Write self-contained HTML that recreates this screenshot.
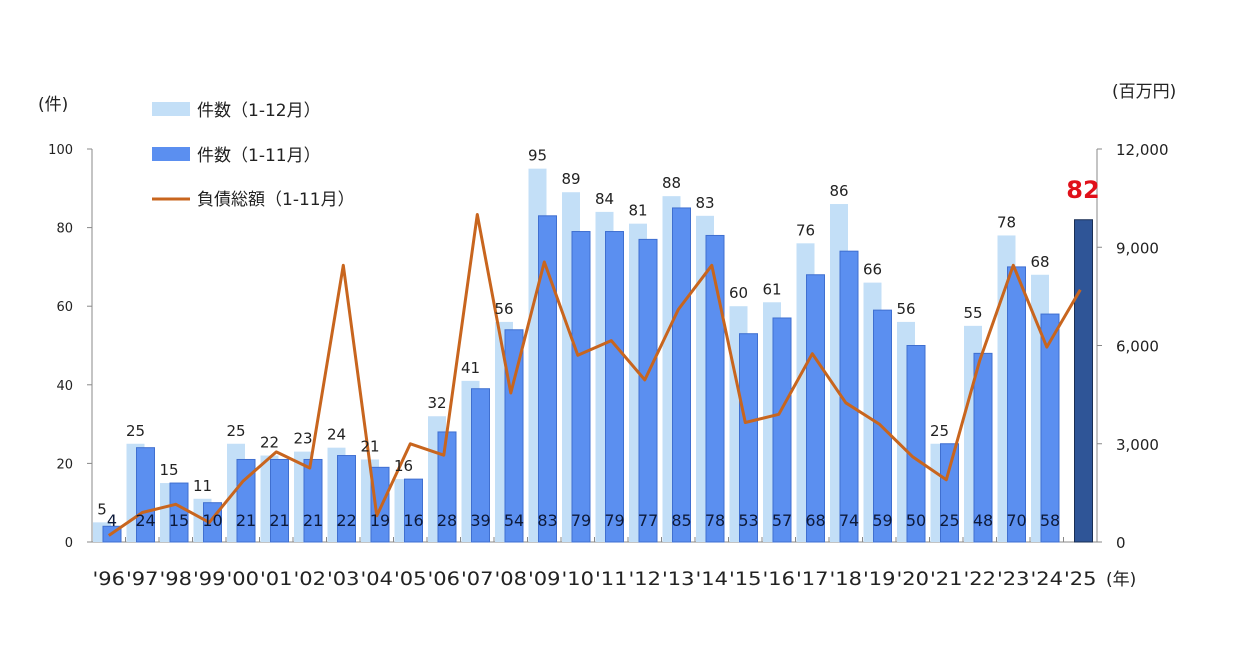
<!DOCTYPE html>
<html><head><meta charset="utf-8"><style>
html,body{margin:0;padding:0;background:#fff;}
svg{display:block;font-family:"DejaVu Sans","Noto Sans CJK JP",sans-serif;}
</style></head><body>
<svg id="c" width="1240" height="665" viewBox="0 0 1240 665" xmlns="http://www.w3.org/2000/svg"></svg>
<script>
const L=[5,25,15,11,25,22,23,24,21,16,32,41,56,95,89,84,81,88,83,60,61,76,86,66,56,25,55,78,68];
const D=[4,24,15,10,21,21,21,22,19,16,28,39,54,83,79,79,77,85,78,53,57,68,74,59,50,25,48,70,58,82];
const M=[200,900,1150,600,1850,2750,2260,8450,800,3000,2650,10000,4550,8550,5700,6150,4950,7100,8450,3650,3900,5750,4250,3600,2600,1900,5550,8450,5950,7700];
const x0=92,x1=1097,y0=542,y100=149,step=(x1-x0)/30;
const yv=v=>y0-(v/100)*(y0-y100), ym=v=>y0-(v/12000)*(y0-y100);
let s='';
s+=`<line x1="${x0}" y1="${y100}" x2="${x0}" y2="${y0}" stroke="#888" stroke-width="1"/>`;
s+=`<line x1="${x1}" y1="${y100}" x2="${x1}" y2="${y0}" stroke="#888" stroke-width="1"/>`;
s+=`<line x1="${x0}" y1="${y0}" x2="${x1}" y2="${y0}" stroke="#888" stroke-width="1"/>`;
for(let v=0;v<=100;v+=20){const y=yv(v);s+=`<line x1="${x0-5}" y1="${y}" x2="${x0}" y2="${y}" stroke="#888"/><text x="${x0-19}" y="${y+5}" font-size="13" text-anchor="end" fill="#222">${v}</text>`;}
for(let v=0;v<=12000;v+=3000){const y=ym(v);s+=`<line x1="${x1}" y1="${y}" x2="${x1+5}" y2="${y}" stroke="#888"/><text x="${x1+19}" y="${y+6}" font-size="15" fill="#222">${v.toLocaleString('en-US')}</text>`;}
for(let i=0;i<=30;i++){const x=x0+step*i;s+=`<line x1="${x}" y1="${y0}" x2="${x}" y2="${y0-5}" stroke="#888"/>`;}
for(let i=0;i<30;i++){const st=x0+step*i;
 if(i<29){s+=`<rect x="${st+1}" y="${yv(L[i])}" width="18" height="${y0-yv(L[i])}" fill="#c3dff7"/>`;}
 const f=i==29?'#2f5597':'#5b8ff0', sk=i==29?'#1a2f55':'#3f6fd0';
 s+=`<rect x="${st+11}" y="${yv(D[i])}" width="18" height="${y0-yv(D[i])}" fill="${f}" stroke="${sk}" stroke-width="1"/>`;
}
let p=M.map((v,i)=>`${(x0+step*(i+0.5)).toFixed(1)},${ym(v).toFixed(1)}`).join(' ');
s+=`<polyline points="${p}" fill="none" stroke="#c8651e" stroke-width="3" stroke-linejoin="round"/>`;
for(let i=0;i<30;i++){const st=x0+step*i;
 if(i<29) s+=`<text x="${st+10}" y="${yv(L[i])-8}" font-size="15" text-anchor="middle" fill="#222">${L[i]}</text>`;
 if(i<29) s+=`<text x="${st+20}" y="526" font-size="16" text-anchor="middle" fill="#0d1a3a">${D[i]}</text>`;
 const lb="'"+String((96+i)%100).padStart(2,'0');
 s+=`<text x="${st+step/2}" y="585" font-size="19" text-anchor="middle" fill="#222" textLength="${step-1}" lengthAdjust="spacingAndGlyphs">${lb}</text>`;
}
s+=`<text x="1083" y="198" font-size="24" font-weight="bold" text-anchor="middle" fill="#e0101a">82</text>`;
s+=`<text x="38" y="110" font-size="17" fill="#222">(件)</text>`;
s+=`<text x="1112" y="97" font-size="17" fill="#222">(百万円)</text>`;
s+=`<text x="1106" y="585" font-size="17" fill="#222">(年)</text>`;
s+=`<rect x="152" y="102" width="38" height="14" fill="#c3dff7"/><text x="197" y="116" font-size="17" fill="#222">件数（1-12月）</text>`;
s+=`<rect x="152" y="147" width="38" height="14" fill="#5b8ff0"/><text x="197" y="161" font-size="17" fill="#222">件数（1-11月）</text>`;
s+=`<line x1="152" y1="199" x2="190" y2="199" stroke="#c8651e" stroke-width="3"/><text x="197" y="205" font-size="17" fill="#222">負債総額（1-11月）</text>`;
document.getElementById('c').innerHTML=s;
</script>
</body></html>
